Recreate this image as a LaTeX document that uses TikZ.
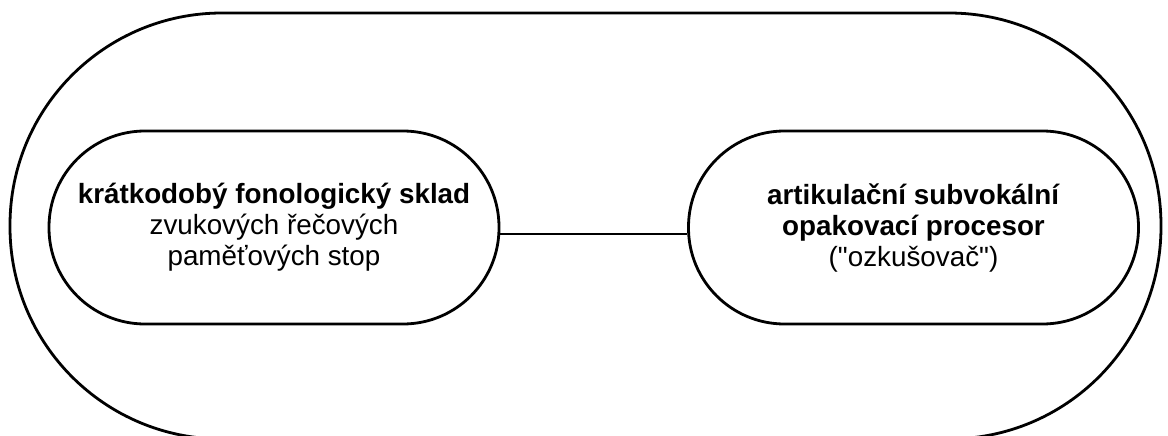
\documentclass[tikz,border=0pt]{standalone}
\usepackage{fontspec}
\setmainfont{Liberation Sans}[Ligatures=TeXOff]
\usepackage{tikz}

\tikzset{
  stadion/.style={draw, line width=2.8pt, rectangle, rounded corners=96pt,
    minimum width=450pt, minimum height=193pt, align=center,
    font=\fontsize{27.8}{31}\selectfont},
}

\begin{document}
\begin{tikzpicture}[x=1pt,y=-1pt,>=latex]
        \useasboundingbox (0,0) rectangle (1168,436);
        \node[draw, line width=2.8pt, rounded corners=212pt, minimum width=1151pt,
          minimum height=426pt] (smycka) at (585.5,226) {}; % vnejsi smycka
        \node[stadion] (sklad) at (274,227.5)
          {\textbf{krátkodobý fonologický sklad}\\ zvukových řečových\\ paměťových stop};
        \node[stadion] (procesor) at (913.5,227.5)
          {\textbf{artikulační subvokální}\\ \textbf{opakovací procesor}\\ ("ozkušovač")};
        \draw[line width=2.8pt] ([yshift=-6.5pt]sklad.east) -- ([yshift=-6.5pt]procesor.west); % spojnice
    \end{tikzpicture}
\end{document}
